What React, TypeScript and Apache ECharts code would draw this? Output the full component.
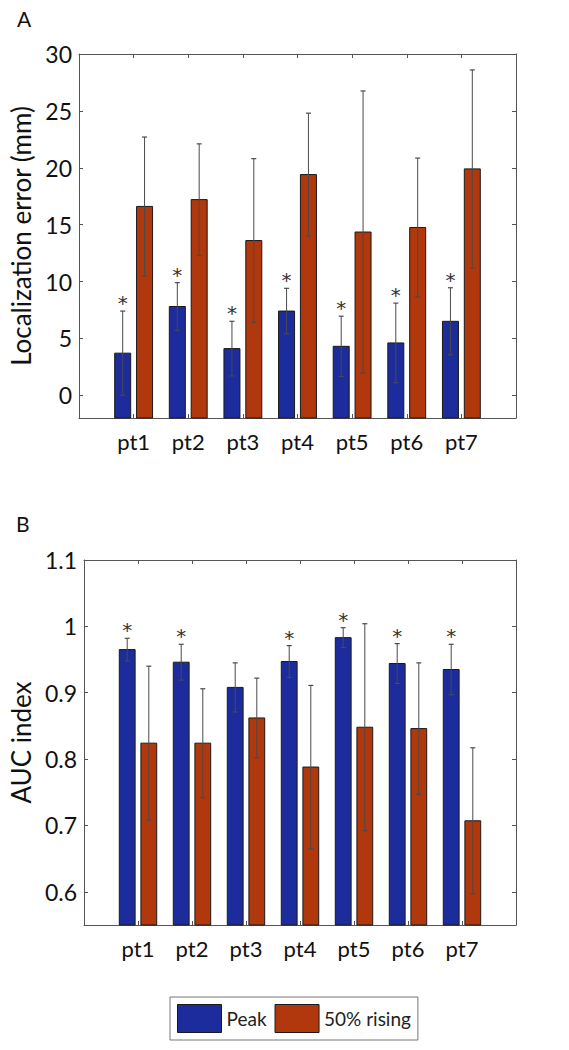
import React, { useEffect, useRef } from 'react';
import * as echarts from 'echarts';

const categories = ['pt1', 'pt2', 'pt3', 'pt4', 'pt5', 'pt6', 'pt7'];
const seriesNames = ['Peak', '50% rising'];

// Panel A: localization error (mm)
const peakErrMean = [3.7, 7.8, 4.1, 7.4, 4.3, 4.6, 6.5];
const peakErrSd = [3.7, 2.1, 2.4, 2.0, 2.65, 3.5, 2.95];
const risingErrMean = [16.6, 17.2, 13.6, 19.4, 14.35, 14.75, 19.9];
const risingErrSd = [6.1, 4.9, 7.2, 5.4, 12.4, 6.1, 8.7];
const sigA = [true, true, true, true, true, true, true];

// Panel B: AUC index
const peakAuc = [0.965, 0.946, 0.908, 0.947, 0.983, 0.944, 0.935];
const peakAucSd = [0.017, 0.027, 0.037, 0.024, 0.015, 0.03, 0.038];
const risingAuc = [0.824, 0.824, 0.862, 0.788, 0.848, 0.846, 0.707];
const risingAucSd = [0.116, 0.082, 0.06, 0.123, 0.156, 0.099, 0.11];
const sigB = [true, true, false, true, true, true, true];

const yTicksA = [0, 5, 10, 15, 20, 25, 30];
const yRangeA = [-2, 30];
const yTicksB = [0.6, 0.7, 0.8, 0.9, 1, 1.1];
const yRangeB = [0.55, 1.1];

const BLUE = '#1c2c9c';
const RUST = '#b0380c';
const FONT = 'Lato';
const AXIS_COLOR = '#555';

function makeBars(name: string, mean: number[], sd: number[], sig: boolean[], side: number, color: string, grid: number) {
  return {
    type: 'custom',
    name,
    xAxisIndex: grid * 2,
    yAxisIndex: grid * 2,
    itemStyle: { color, borderColor: '#1a1a1a', borderWidth: 1 },
    encode: { x: 0, y: 1 },
    data: mean.map((v, i) => [i + 1, v, sd[i], sig[i] ? 1 : 0]),
    renderItem: (params: any, api: any) => {
      const x = api.value(0);
      const v = api.value(1);
      const e = api.value(2);
      const s = api.value(3);
      const band = api.size([1, 0])[0];
      const p = api.coord([x, v]);
      const cx = p[0] + side * band * 0.2;
      const top = p[1];
      const cs = params.coordSys;
      const bottom = cs.y + cs.height;
      const w = band * 0.293;
      const up = api.coord([x, v + e])[1];
      const lo = api.coord([x, v - e])[1];
      const ec = '#4a4a4a';
      const children: any[] = [
        {
          type: 'rect',
          shape: { x: cx - w / 2, y: top, width: w, height: bottom - top },
          style: { fill: color, stroke: '#1a1a1a', lineWidth: 1 },
        },
        { type: 'line', shape: { x1: cx, y1: up, x2: cx, y2: lo }, style: { stroke: ec, lineWidth: 1 } },
        { type: 'line', shape: { x1: cx - 2.5, y1: up, x2: cx + 2.5, y2: up }, style: { stroke: ec, lineWidth: 1.2 } },
        { type: 'line', shape: { x1: cx - 2.5, y1: lo, x2: cx + 2.5, y2: lo }, style: { stroke: ec, lineWidth: 1.2 } },
      ];
      if (s) {
        children.push({
          type: 'text',
          x: cx,
          y: up - 8,
          style: {
            text: '*',
            fill: '#333',
            font: '20px DejaVu Sans',
            align: 'center',
            verticalAlign: 'middle',
          },
        });
      }
      return { type: 'group', children };
    },
  };
}

function xAxes(grid: number) {
  const data = ['', ...categories, ''];
  const tickInterval = (i: number) => i > 0 && i < data.length - 1;
  return [
    {
      type: 'category',
      gridIndex: grid,
      data,
      boundaryGap: false,
      position: 'bottom',
      axisLine: { show: true, onZero: false, lineStyle: { color: AXIS_COLOR, width: 1 } },
      axisTick: { show: true, inside: true, length: 4, interval: tickInterval, lineStyle: { color: AXIS_COLOR } },
      axisLabel: { show: true, interval: 0, fontFamily: FONT, fontSize: 22, color: '#111', margin: 12 },
      splitLine: { show: false },
    },
    {
      type: 'category',
      gridIndex: grid,
      data,
      boundaryGap: false,
      position: 'top',
      axisLine: { show: true, onZero: false, lineStyle: { color: AXIS_COLOR, width: 1 } },
      axisTick: { show: true, inside: true, length: 4, interval: tickInterval, lineStyle: { color: AXIS_COLOR } },
      axisLabel: { show: false },
      splitLine: { show: false },
    },
  ];
}

function yAxes(grid: number, range: number[], ticks: number[], name: string, nameGap: number) {
  return [
    {
      type: 'value',
      gridIndex: grid,
      position: 'left',
      min: range[0],
      max: range[1],
      name,
      nameLocation: 'middle',
      nameGap,
      nameTextStyle: { fontFamily: FONT, fontSize: 26, color: '#111' },
      axisLine: { show: true, onZero: false, lineStyle: { color: AXIS_COLOR, width: 1 } },
      axisTick: { show: true, inside: true, length: 4, customValues: ticks, lineStyle: { color: AXIS_COLOR } },
      axisLabel: {
        show: true,
        customValues: ticks,
        fontFamily: FONT,
        fontSize: 23,
        color: '#111',
        margin: 7,
        formatter: (v: number) => String(Math.round(v * 100) / 100),
      },
      splitLine: { show: false },
    },
    {
      type: 'value',
      gridIndex: grid,
      position: 'right',
      min: range[0],
      max: range[1],
      axisLine: { show: true, onZero: false, lineStyle: { color: AXIS_COLOR, width: 1 } },
      axisTick: { show: true, inside: true, length: 4, customValues: ticks, lineStyle: { color: AXIS_COLOR } },
      axisLabel: { show: false },
      splitLine: { show: false },
    },
  ];
}

export default function App() {
  const ref = useRef<HTMLDivElement>(null);
  useEffect(() => {
    document.body.style.margin = '0';
    if (!ref.current) return;
    const chart = echarts.init(ref.current, null, { renderer: 'svg' });
    chart.setOption({
      animation: false,
      backgroundColor: '#ffffff',
      grid: [
        { left: 79, top: 54, width: 437, height: 364, containLabel: false },
        { left: 77, top: 560, width: 439, height: 365, containLabel: false },
      ],
      xAxis: [...xAxes(0), ...xAxes(1)],
      yAxis: [
        ...yAxes(0, yRangeA, yTicksA, 'Localization error (mm)', 42),
        ...yAxes(1, yRangeB, yTicksB, 'AUC index', 44),
      ],
      legend: {
        show: true,
        left: 170,
        top: 997,
        orient: 'horizontal',
        data: seriesNames.map((n) => ({ name: n, icon: 'rect' })),
        itemWidth: 44,
        itemHeight: 28,
        itemGap: 8,
        padding: 7,
        borderColor: '#777',
        borderWidth: 1,
        itemStyle: { borderColor: '#1a1a1a', borderWidth: 1 },
        textStyle: { fontFamily: FONT, fontSize: 19, color: '#222' },
        selectedMode: false,
      },
      graphic: [
        { type: 'text', left: 17, top: 8, style: { text: 'A', font: '21px Lato', fill: '#111' } },
        { type: 'text', left: 16, top: 513, style: { text: 'B', font: '21px Lato', fill: '#111' } },
      ],
      series: [
        makeBars(seriesNames[0], peakErrMean, peakErrSd, sigA, -1, BLUE, 0),
        makeBars(seriesNames[1], risingErrMean, risingErrSd, sigA.map(() => false), 1, RUST, 0),
        makeBars(seriesNames[0], peakAuc, peakAucSd, sigB, -1, BLUE, 1),
        makeBars(seriesNames[1], risingAuc, risingAucSd, sigB.map(() => false), 1, RUST, 1),
      ],
    });
    return () => chart.dispose();
  }, []);
  return <div ref={ref} style={{ width: 569, height: 1050 }} />;
}
